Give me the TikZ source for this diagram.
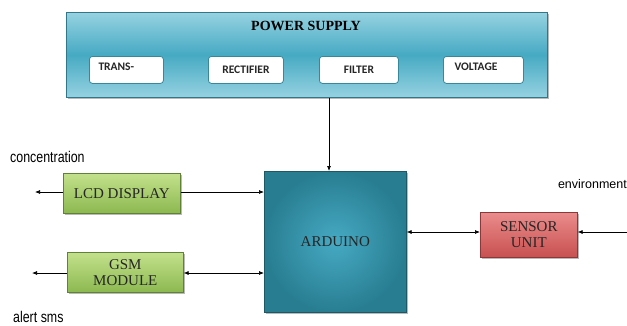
\documentclass[tikz,border=0pt]{standalone}
\usepackage{fontspec}
\setmainfont{Liberation Serif}
\newfontfamily\lblsans{Carlito}
\newfontfamily\narrowsans[FakeStretch=0.80]{Liberation Sans}
\newfontfamily\plainsans{Liberation Sans}
\usetikzlibrary{arrows.meta,shadows}
\definecolor{psmid}{RGB}{70,170,195}
\definecolor{psedge}{RGB}{150,210,225}
\definecolor{ardtop}{RGB}{40,125,145}
\definecolor{ardmid}{RGB}{70,170,195}
\definecolor{lcdtop}{RGB}{195,225,140}
\definecolor{lcdbot}{RGB}{140,185,80}
\definecolor{sentop}{RGB}{235,140,140}
\definecolor{senbot}{RGB}{200,80,80}
\tikzset{
  blk/.style={draw=#1!70!black, line width=0.6pt, drop shadow={shadow xshift=2pt,shadow yshift=-2pt,fill=black!55}},
  lblfont/.style={font=\lblsans\bfseries\fontsize{11.5}{13}\selectfont, text=black!85},
  inner/.style={draw=psmid!80!black, fill=white, rounded corners=3pt, line width=0.8pt, minimum width=74pt, minimum height=27pt, lblfont},
  lbl/.style={font=\fontsize{15}{16}\selectfont, align=center, text=black!85},
  conn/.style={-{Latex[length=5pt,width=4pt]}, line width=0.7pt},
  bconn/.style={{Latex[length=5pt,width=4pt]}-{Latex[length=5pt,width=4pt]}, line width=0.7pt},
}
\begin{document}
\begin{tikzpicture}[x=1pt,y=-1pt]
\useasboundingbox (0,0) rectangle (627,325);
% power supply
\node[blk=psmid, top color=psedge, bottom color=psedge, middle color=psmid, minimum width=481pt, minimum height=85pt, inner sep=0pt, anchor=north west] (ps) at (66,12) {};
\node[font=\bfseries\fontsize{14}{16}\selectfont] (pst) at (306,26) {POWER SUPPLY};
\node[inner, anchor=north west] (tr) at (89,56) {};
\node[anchor=west, lblfont] (trt) at (95,67) {TRANS-};
\node[inner, minimum width=75pt, anchor=north west] (rc) at (208,56) {RECTIFIER};
\node[inner, minimum width=79pt, anchor=north west] (fl) at (319,56) {FILTER};
\node[inner, minimum width=80pt, anchor=north west] (vg) at (443,56) {};
\node[anchor=west, lblfont] (vgt) at (451,67) {VOLTAGE};
% arduino
\node[blk=ardtop, shading=radial, inner color=ardmid, outer color=ardtop, minimum width=142pt, minimum height=141pt, inner sep=0pt, anchor=north west, lbl] (ard) at (264,171) {ARDUINO};
% lcd
\node[blk=lcdbot, top color=lcdtop, bottom color=lcdbot, minimum width=117pt, minimum height=40pt, inner sep=0pt, anchor=north west, lbl] (lcd) at (63,173) {LCD DISPLAY};
% gsm
\node[blk=lcdbot, top color=lcdtop, bottom color=lcdbot, minimum width=116pt, minimum height=40pt, inner sep=0pt, anchor=north west, lbl] (gsm) at (67,252) {GSM\\MODULE};
% sensor
\node[blk=senbot, top color=sentop, bottom color=senbot, minimum width=97pt, minimum height=45pt, inner sep=0pt, anchor=north west, lbl] (sen) at (480,212) {SENSOR\\UNIT};
% free ends
\coordinate (lcdout) at (35,192);
\coordinate (gsmout) at (32,273);
\coordinate (envin) at (627,232);
% texts
\node[font=\narrowsans\fontsize{15.5}{17}\selectfont, anchor=west, inner sep=0pt] (conc) at (10,157) {concentration};
\node[font=\narrowsans\fontsize{15.5}{17}\selectfont, anchor=west, inner sep=0pt] (alert) at (13,317) {alert sms};
\node[font=\plainsans\fontsize{12.5}{14}\selectfont, anchor=east, inner sep=0pt] (env) at (627,184) {environment};
% connectors
\draw[conn] (ps.south -| 329,0) -- (ard.north -| 329,0);
\draw[conn] (lcd.west |- 0,192) -- (lcdout);
\draw[conn] (lcd.east |- 0,192) -- (ard.west |- 0,192);
\draw[conn] (gsm.west |- 0,273) -- (gsmout);
\draw[bconn] (gsm.east |- 0,273) -- (ard.west |- 0,273);
\draw[bconn] (ard.east |- 0,232) -- (sen.west |- 0,232);
\draw[conn] (envin) -- (sen.east |- 0,232);
\end{tikzpicture}
\end{document}
